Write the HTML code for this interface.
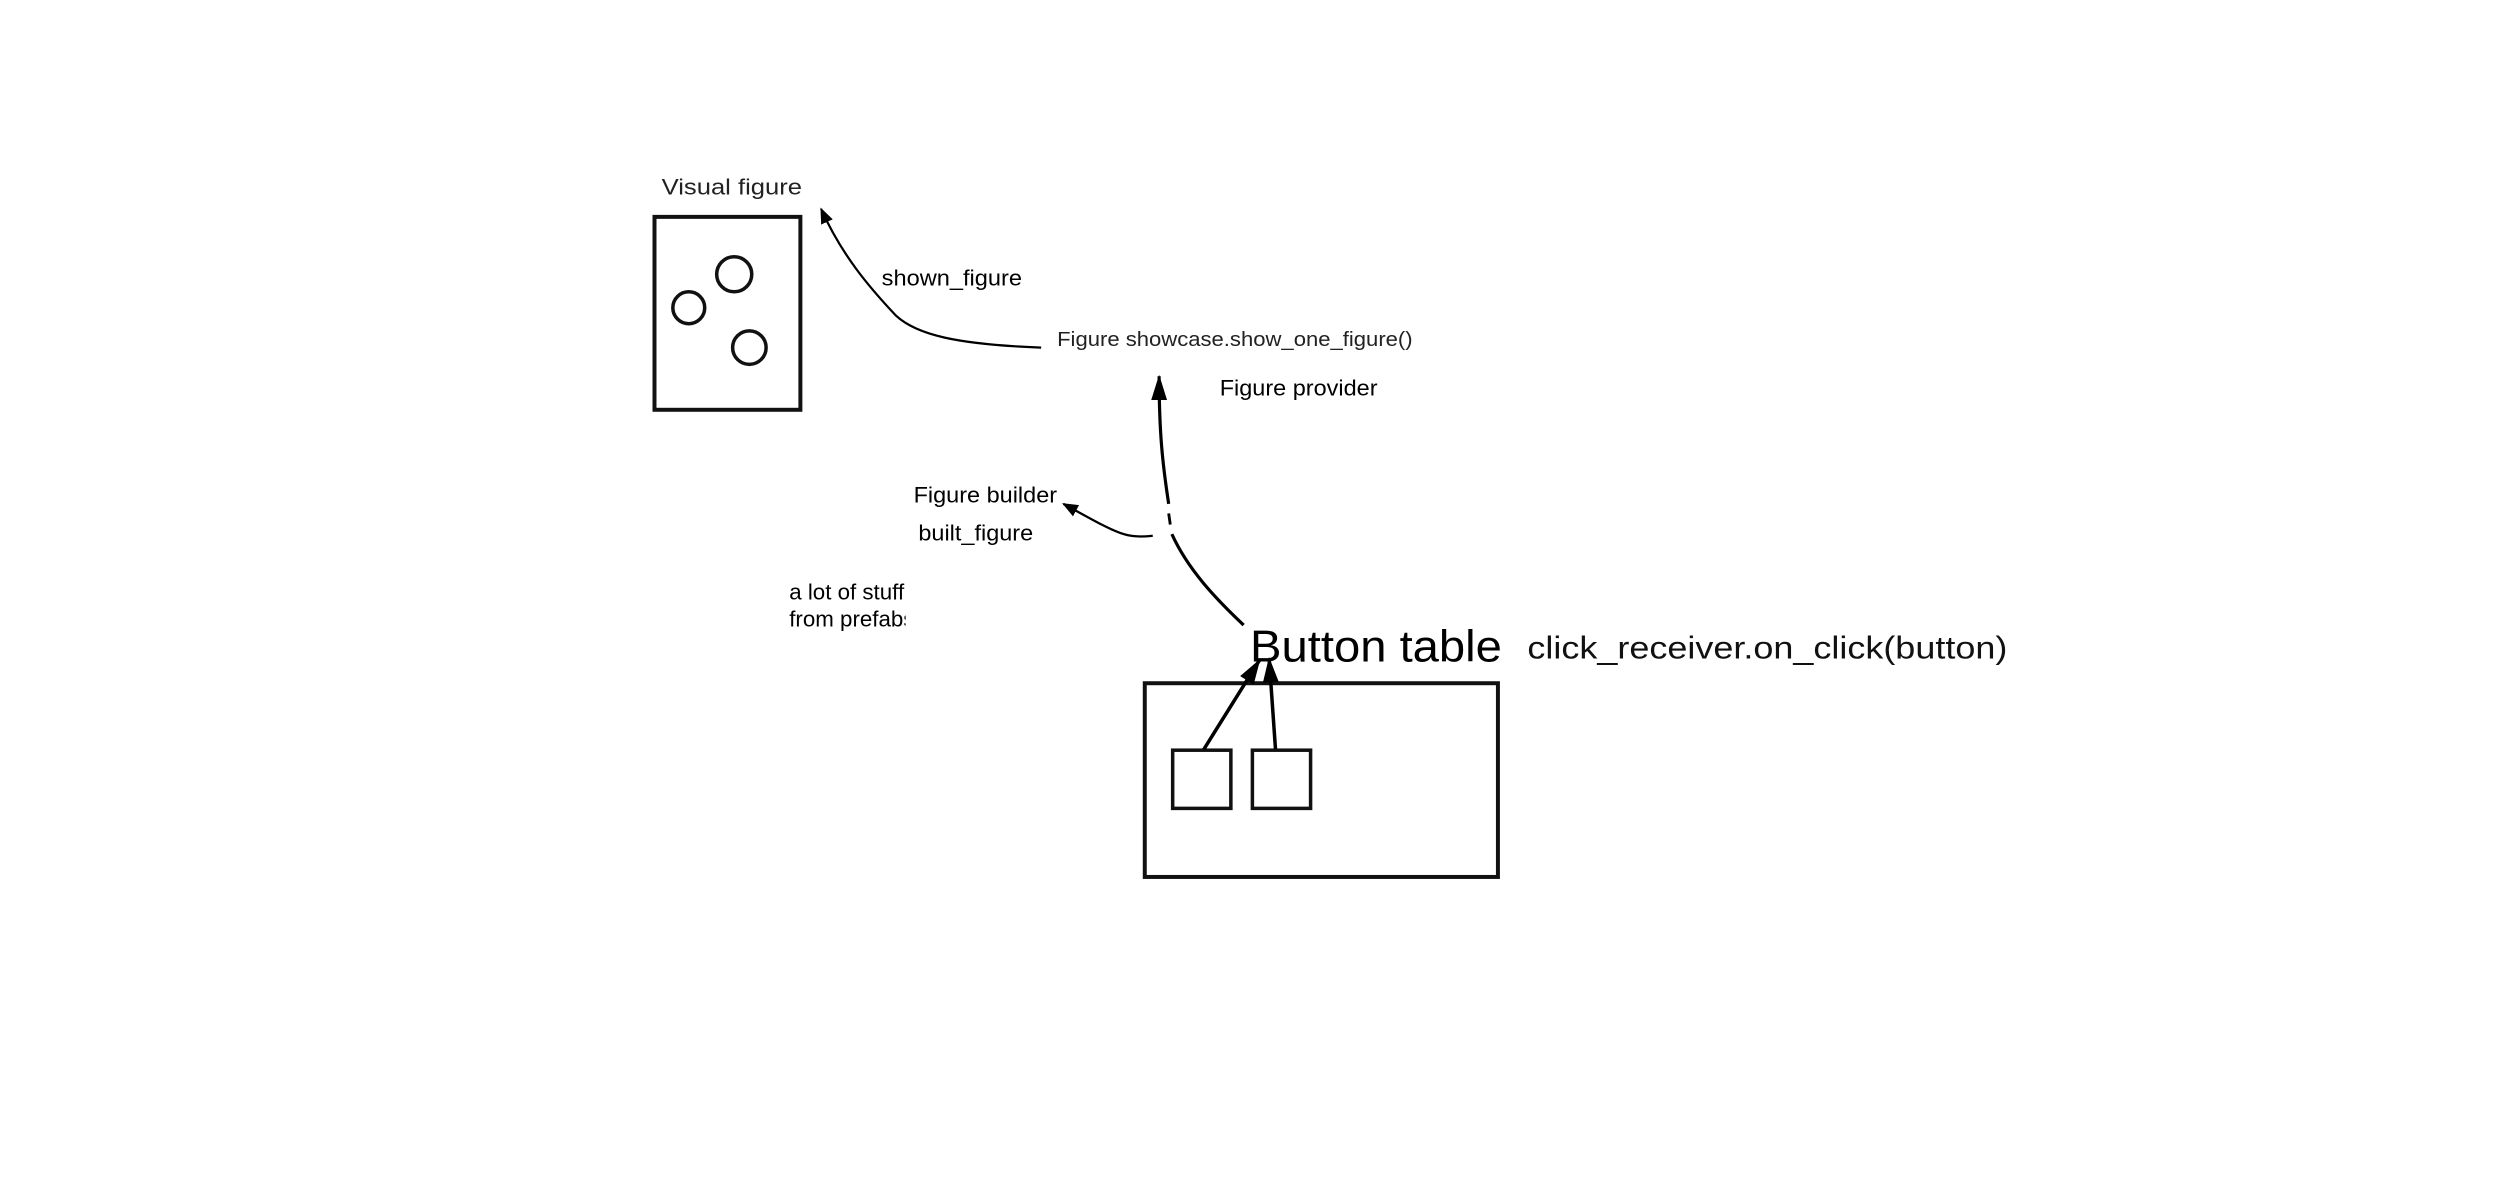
<!DOCTYPE html>
<html><head><meta charset="utf-8"><style>html,body{margin:0;padding:0;background:#fff;}svg{display:block}</style></head>
<body>
<svg width="2500" height="1200" viewBox="0 0 1568 752.6" xmlns="http://www.w3.org/2000/svg" font-family="Liberation Sans, sans-serif" fill="#000">
<defs>
<marker id="a" markerWidth="10" markerHeight="10" refX="9" refY="5" orient="auto" markerUnits="userSpaceOnUse"><path d="M0,1 L10,5 L0,9 Z"/></marker>
<marker id="b" markerWidth="16" markerHeight="12" refX="15" refY="6" orient="auto" markerUnits="userSpaceOnUse"><path d="M0,1 L16,6 L0,11 Z"/></marker>
<clipPath id="c"><rect x="480" y="355" width="88" height="50"/></clipPath>
</defs>
<text x="415" y="122" font-size="14" fill="#222" textLength="88" lengthAdjust="spacingAndGlyphs">Visual figure</text>
<rect x="410.5" y="136" width="91.5" height="121" fill="none" stroke="#111" stroke-width="2.5"/>
<circle cx="460.5" cy="172" r="11" fill="none" stroke="#111" stroke-width="2.2"/>
<circle cx="432" cy="193" r="10" fill="none" stroke="#111" stroke-width="2.2"/>
<circle cx="470" cy="218" r="10.5" fill="none" stroke="#111" stroke-width="2.2"/>
<path d="M653,218 C600,216 575,210 562,198 C545,180 528,160 515,131" fill="none" stroke="#000" stroke-width="1.4" marker-end="url(#a)"/>
<text x="553" y="179" font-size="14" textLength="88" lengthAdjust="spacingAndGlyphs">shown_figure</text>
<text x="663" y="217" font-size="13" fill="#222" textLength="223" lengthAdjust="spacingAndGlyphs">Figure showcase.show_one_figure()</text>
<text x="765" y="248" font-size="14" textLength="99" lengthAdjust="spacingAndGlyphs">Figure provider</text>
<path d="M733,316 C729,290 727,270 727,236" fill="none" stroke="#000" stroke-width="2" marker-end="url(#b)"/>
<path d="M733,322 L734,329" stroke="#000" stroke-width="1.8"/>
<path d="M735,335 C745,357 762,375 780,392" fill="none" stroke="#000" stroke-width="2"/>
<path d="M723,336 C705,338 700,334 667,316" fill="none" stroke="#000" stroke-width="1.4" marker-end="url(#a)"/>
<text x="573" y="315" font-size="14" textLength="90" lengthAdjust="spacingAndGlyphs">Figure builder</text>
<text x="576" y="339" font-size="14" textLength="72" lengthAdjust="spacingAndGlyphs">built_figure</text>
<g clip-path="url(#c)"><text x="495" y="376" font-size="14">a lot of stuff</text><text x="495" y="393" font-size="14">from prefabs</text></g>
<text x="784" y="415" font-size="28" textLength="158" lengthAdjust="spacingAndGlyphs">Button table</text>
<text x="958" y="413" font-size="20" fill="#111" textLength="301" lengthAdjust="spacingAndGlyphs">click_receiver.on_click(button)</text>
<rect x="718" y="428.5" width="221.5" height="121.5" fill="none" stroke="#111" stroke-width="2.5"/>
<rect x="735.5" y="470.5" width="36.5" height="36.5" fill="none" stroke="#111" stroke-width="2.2"/>
<rect x="785.5" y="470.5" width="36.5" height="36.5" fill="none" stroke="#111" stroke-width="2.2"/>
<path d="M755,470 L790,414" stroke="#000" stroke-width="2.2" marker-end="url(#b)"/>
<path d="M800,470 L796,413" stroke="#000" stroke-width="2.2" marker-end="url(#b)"/>
</svg>
</body></html>
